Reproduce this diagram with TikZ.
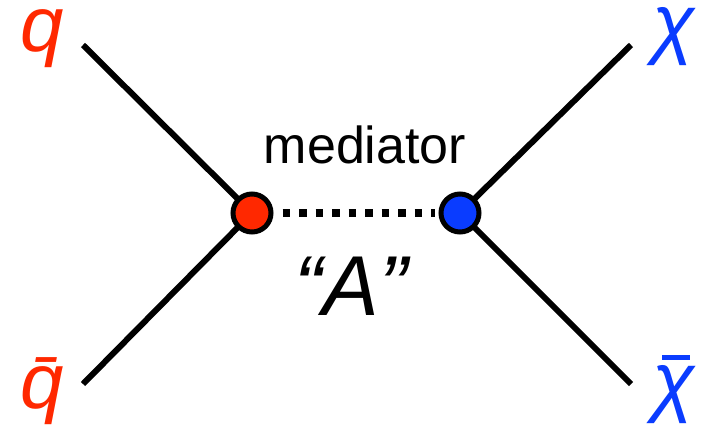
\documentclass[tikz,border=0pt]{standalone}
\usepackage{fontspec}
\setmainfont{Liberation Sans}
\definecolor{quarkred}{RGB}{255,40,0}
\definecolor{chiblue}{RGB}{10,60,255}

\begin{document}
\begin{tikzpicture}[x=1pt, y=-1pt,
    leg/.style={line width=6pt},
    vtx/.style={circle, draw, line width=5pt, minimum size=38pt, inner sep=0pt},
    prop/.style={line width=7.5pt, dash pattern=on 7.5pt off 9pt},
    lbl/.style={anchor=base, font=\fontsize{78}{80}\selectfont\itshape}]

    \useasboundingbox (0,0) rectangle (710,431);

    % Vertices
    \coordinate (qv) at (252,213);
    \coordinate (xv) at (460,213);

    % Outer ends of the legs
    \coordinate (qin)    at (83,45);
    \coordinate (qbarin) at (83,384);
    \coordinate (xout)   at (631,45);
    \coordinate (xbarout) at (631,384);

    % Legs
    \draw[leg] (qv) -- (qin);
    \draw[leg] (qv) -- (qbarin);
    \draw[leg] (xv) -- (xout);
    \draw[leg] (xv) -- (xbarout);

    \node[vtx, fill=quarkred] (qvtx) at (qv) {};
    \node[vtx, fill=chiblue]  (xvtx) at (xv) {};

    % Mediator line
    \draw[prop, shorten <=9pt, shorten >=4pt] (qvtx) -- (xvtx);

    % Labels
    \node[lbl, text=quarkred] (q)    at (42,51)  {q};
    \node[lbl, text=quarkred] (qbar) at (42,408) {\={q}};
    \node[lbl, text=chiblue]  (x)    at (674,49) {χ};
    \node[lbl, text=chiblue]  (xbar) at (674,407)
        {\ooalign{χ\cr\hidewidth\kern0.05em\raisebox{0.6em}{\rule{0.36em}{0.065em}}\hidewidth\cr}};

    \node[anchor=base, font=\fontsize{52}{54}\selectfont] (med) at (365,163) {mediator};
    \node[anchor=base, font=\fontsize{85}{88}\selectfont\itshape] (A) at (351,315) {“A”};

\end{tikzpicture}
\end{document}
